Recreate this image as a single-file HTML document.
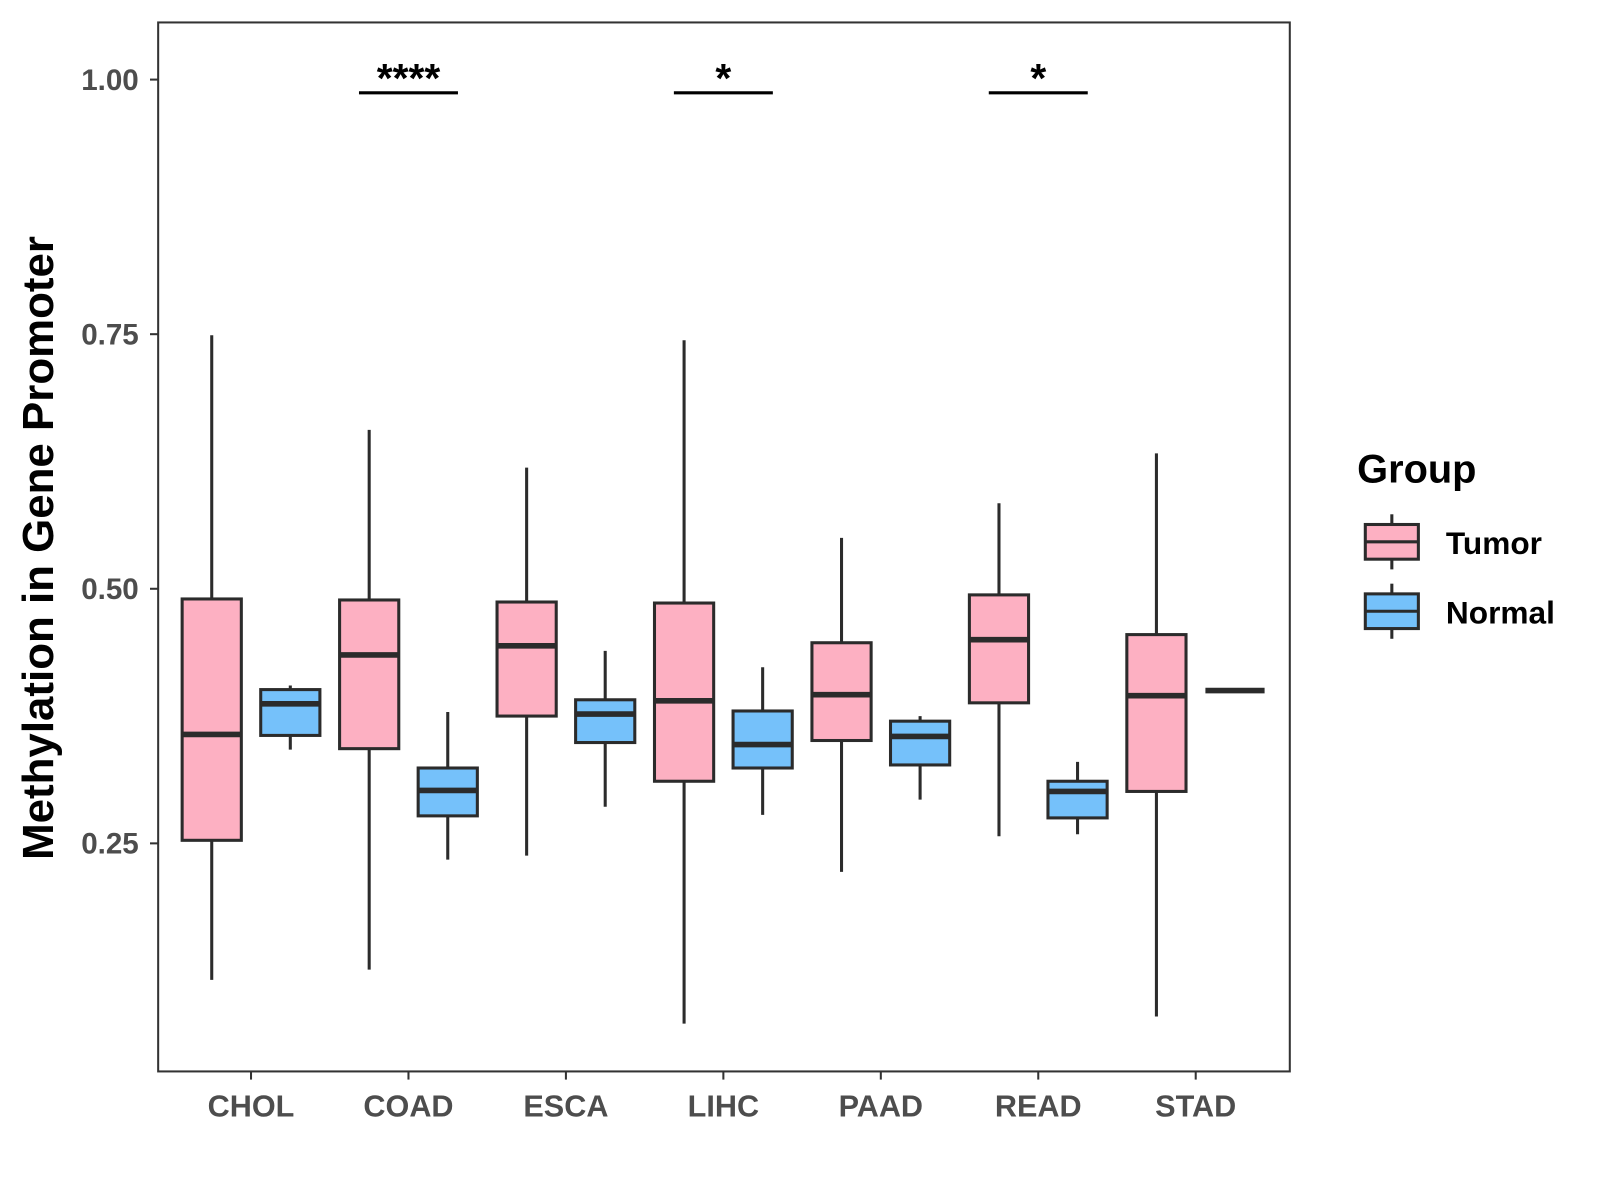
<!DOCTYPE html>
<html><head><meta charset="utf-8"><style>
html,body{margin:0;padding:0;background:#fff;}
svg{display:block;font-family:"Liberation Sans",Arial,sans-serif;}
</style></head><body>
<svg id="chart" width="1600" height="1200" viewBox="0 0 1568 1176" xmlns="http://www.w3.org/2000/svg">
<rect x="0" y="0" width="1568" height="1176" fill="#fff"/>
<rect x="155" y="22" width="1109" height="1028" fill="none" stroke="#333" stroke-width="2"/>
<g id="marks"></g>
<text transform="translate(52,537) rotate(-90)" text-anchor="middle" font-size="43" font-weight="bold" fill="#000">Methylation in Gene Promoter</text>
<text x="1330" y="473" font-size="39" font-weight="bold" fill="#000">Group</text>
</svg>
<script>
const categories = ["CHOL","COAD","ESCA","LIHC","PAAD","READ","STAD"];
const groups = ["Tumor","Normal"];
// [min, q1, median, q3, max]
const tumorStats = [
  [0.116,0.253,0.357,0.490,0.749],
  [0.126,0.343,0.435,0.489,0.656],
  [0.238,0.375,0.444,0.487,0.619],
  [0.073,0.311,0.390,0.486,0.744],
  [0.222,0.351,0.396,0.447,0.550],
  [0.257,0.388,0.450,0.494,0.584],
  [0.080,0.301,0.395,0.455,0.633]
];
const normalStats = [
  [0.342,0.356,0.387,0.401,0.405],
  [0.234,0.277,0.302,0.324,0.379],
  [0.286,0.349,0.377,0.391,0.439],
  [0.278,0.324,0.347,0.380,0.423],
  [0.293,0.327,0.355,0.370,0.375],
  [0.259,0.275,0.301,0.311,0.330],
  [0.400,0.400,0.400,0.400,0.400]
];
const yTicks = [0.25,0.50,0.75,1.00];
const yTickLabels = ["0.25","0.50","0.75","1.00"];
const sigCategories = ["COAD","LIHC","READ"];
const sigLabels = ["****","*","*"];
const sigLevel = 0.987;

const NS="http://www.w3.org/2000/svg";
const g=document.getElementById("marks");
function yScale(v){return 78+(1-v)*998;}
function xScale(i){return 246+i*154.3;}
function mk(tag,attrs,parent){const e=document.createElementNS(NS,tag);for(const k in attrs)e.setAttribute(k,attrs[k]);(parent||g).appendChild(e);return e;}
const colors={Tumor:"#FDB0C2",Normal:"#75C1FA"};
const stroke="#2b2b2b";
const bw=58, off=38.5;

yTicks.forEach((t,i)=>{
  const y=yScale(t);
  const tk=mk("line",{x1:147,x2:155,y1:y,y2:y,stroke:"#333","stroke-width":2});
  
  
  const tx=mk("text",{x:136,y:y+10,"text-anchor":"end","font-size":29,"font-weight":"bold",fill:"#4d4d4d"});
  tx.textContent=yTickLabels[i];
  
  
});
categories.forEach((c,i)=>{
  const x=xScale(i);
  const tk=mk("line",{x1:x,x2:x,y1:1050,y2:1058,stroke:"#333","stroke-width":2});
  
  
  const tx=mk("text",{x:x,y:1094,"text-anchor":"middle","font-size":30,"font-weight":"bold",fill:"#4d4d4d"});
  tx.textContent=c;
  
  
});
function drawBox(s,cx,col,name){
  const grp=mk("g",{});
  
  
  mk("line",{x1:cx,x2:cx,y1:yScale(s[4]),y2:yScale(s[0]),stroke:stroke,"stroke-width":3},grp);
  mk("rect",{x:cx-bw/2,y:yScale(s[3]),width:bw,height:Math.max(0,yScale(s[1])-yScale(s[3])),fill:col,stroke:stroke,"stroke-width":3},grp);
  mk("line",{x1:cx-bw/2,x2:cx+bw/2,y1:yScale(s[2]),y2:yScale(s[2]),stroke:stroke,"stroke-width":5.5},grp);
}
categories.forEach((c,i)=>{
  drawBox(tumorStats[i],xScale(i)-off,colors.Tumor,"box-tumor-"+c.toLowerCase());
  drawBox(normalStats[i],xScale(i)+off,colors.Normal,"box-normal-"+c.toLowerCase());
});
sigCategories.forEach((c,k)=>{
  const i=categories.indexOf(c);const x=xScale(i);const y=yScale(sigLevel);
  const ln=mk("line",{x1:x-off-10,x2:x+off+10,y1:y,y2:y,stroke:"#000","stroke-width":3});
  
  
  const tx=mk("text",{x:x,y:y-1,"text-anchor":"middle","font-size":40,"font-weight":"bold",fill:"#000"});
  tx.textContent=sigLabels[k];
  
  
});
groups.forEach((gname,k)=>{
  const y0=514+k*68;
  const lg=mk("g",{});
  
  
  mk("line",{x1:1364,x2:1364,y1:y0-10,y2:y0+44,stroke:stroke,"stroke-width":3},lg);
  mk("rect",{x:1338,y:y0,width:52,height:34,fill:colors[gname],stroke:stroke,"stroke-width":3},lg);
  mk("line",{x1:1338,x2:1390,y1:y0+17,y2:y0+17,stroke:stroke,"stroke-width":3},lg);
  const tx=mk("text",{x:1417,y:y0+29,"font-size":31,"font-weight":"bold",fill:"#000"},lg);
  tx.textContent=gname;
});
</script>
</body></html>
